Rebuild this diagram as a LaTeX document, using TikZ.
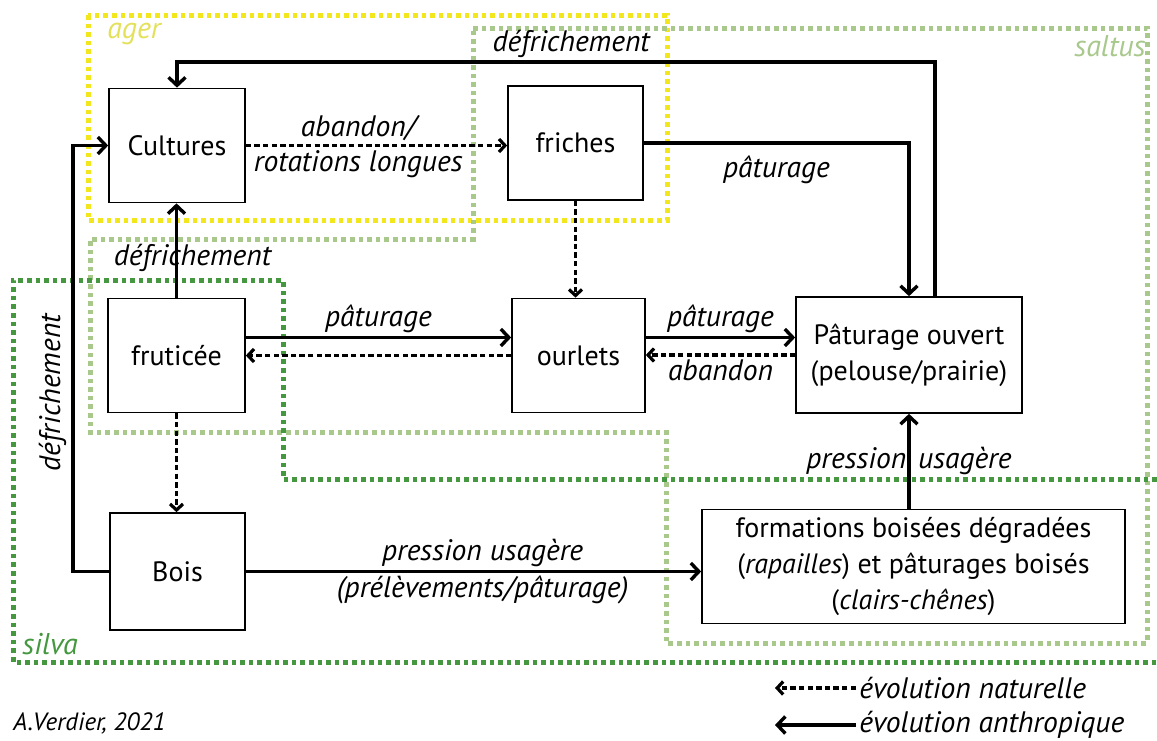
\documentclass[tikz,border=0pt]{standalone}
\usepackage{fontspec}
\setmainfont{PT Sans}
\usetikzlibrary{positioning,calc,arrows.meta}
\usepackage{xcolor}

\definecolor{agercol}{HTML}{F2E61C}
\definecolor{agertxt}{HTML}{E3E05A}
\definecolor{saltuscol}{HTML}{A8C88C}
\definecolor{silvacol}{HTML}{45983F}

\begin{document}
\begin{tikzpicture}[
    x=0.5pt, y=-0.5pt,
    box/.style={rectangle, draw, line width=0.85pt, inner sep=0pt, minimum width=67.5pt, minimum height=57pt, align=center, font=\fontsize{14}{18}\selectfont},
    lbl/.style={font=\fontsize{14.8}{16}\selectfont\itshape, inner sep=1.5pt},
    zonelbl/.style={font=\fontsize{15}{16}\selectfont\itshape, inner sep=0pt},
    arrow/.style={-{Straight Barb[length=4pt, width=8.5pt]}, line width=1.7pt},
    natarrow/.style={-{Straight Barb[length=3pt, width=6.5pt]}, line width=1.6pt, dash pattern=on 2.7pt off 1.6pt},
    zone/.style={line width=2.5pt, dash pattern=on 2.3pt off 2pt},
]
\useasboundingbox (0,0) rectangle (1157,740);

% zones
\draw[zone, agercol] (88,15) rectangle (667,220);
\draw[zone, saltuscol] (473,28) -- (1147,28) -- (1147,643) -- (666,643) -- (666,432)
    -- (90,432) -- (90,239) -- (473,239) -- cycle;
\draw[zone, silvacol] (1157,479) -- (283,479) -- (283,280) -- (13,280) -- (13,662) -- (1157,662);
\node[zonelbl, text=agertxt] (lager) at (134,34) {ager};
\node[zonelbl, text=saltuscol] (lsaltus) at (1110,46) {saltus};
\node[zonelbl, text=silvacol] (lsilva) at (50,644) {silva};

% milieux
\node[box, minimum width=68pt] (cult) at (177,145.5) {Cultures};
\node[box] (fri) at (575.5,143) {friches};
\node[box, minimum width=68.5pt] (frut) at (176.5,355.5) {fruticée};
\node[box, minimum width=66.5pt] (ourl) at (578.5,355.5) {ourlets};
\node[box, minimum width=113pt, minimum height=58pt] (past) at (909,355) {Pâturage ouvert\\(pelouse/prairie)};
\node[box, minimum height=58.5pt] (bois) at (177.5,571.5) {Bois};
\node[box, minimum width=211.5pt] (form) at (913.5,566.5)
    {formations boisées dégradées\\(\textit{rapailles}) et pâturages boisés\\(\textit{clairs-chênes})};

\coordinate (dtop) at (935,62);
\coordinate (dleft) at (73,0);

% evolutions
\draw[arrow] (dtop |- past.north) -- (dtop) -| node[lbl, pos=0.24, above] {défrichement} (cult.north);
\draw[natarrow] (cult.east) -- (cult.east -| fri.west)
    node[lbl, pos=0.43, above] {abandon/} node[lbl, pos=0.43, below] {rotations longues};
\draw[arrow] (fri.east) -| node[lbl, pos=0.25, below=4pt] {pâturage} (past.north);
\draw[natarrow] (fri.south) -- (fri.south |- ourl.north);
\draw[arrow] (frut.north) -- node[lbl, pos=0.42, xshift=8pt] {défrichement} (frut.north |- cult.south);
\draw[arrow] ([yshift=9pt]frut.east) -- node[lbl, above] {pâturage} ([yshift=9pt]ourl.west);
\draw[natarrow] (ourl.west) -- (frut.east);
\draw[arrow] ([yshift=9pt]ourl.east) -- node[lbl, above] {pâturage} ([yshift=9pt]ourl.east -| past.west);
\draw[natarrow] (past.west) -- node[lbl, below] {abandon} (past.west -| ourl.east);
\draw[natarrow] (frut.south) -- (frut.south |- bois.north);
\draw[arrow] (bois.west) -- (bois.west -| dleft) |- node[lbl, pos=0.21, rotate=90, anchor=south, inner sep=2.5pt] {défrichement} (cult.west);
\draw[arrow] (bois.east) -- (bois.east -| form.west)
    node[lbl, pos=0.52, above] {pression usagère} node[lbl, pos=0.52, below] {(prélèvements/pâturage)};
\draw[arrow] (past.south |- form.north) -- node[lbl] {pression\hspace{6pt}usagère} (past.south);

% legende
\node[lbl, anchor=west] (lgnat) at (856,688) {évolution naturelle};
\node[lbl, anchor=west] (lganth) at (856,725) {évolution anthropique};
\coordinate (lgn) at (775,688);
\coordinate (lga) at (775,725);
\draw[natarrow] (lgnat.west) -- (lgn);
\draw[arrow] (lganth.west) -- (lga);
\node[lbl, anchor=west, font=\fontsize{12.5}{14}\selectfont\itshape] (credit) at (10,723) {A.Verdier, 2021};

\end{tikzpicture}
\end{document}
